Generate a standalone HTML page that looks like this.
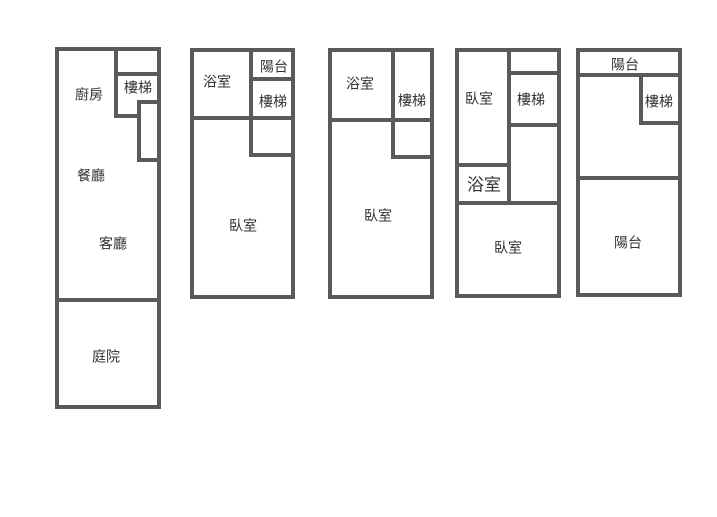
<!DOCTYPE html>
<html><head><meta charset="utf-8"><style>
html,body{margin:0;padding:0;background:#fff;width:717px;height:517px;overflow:hidden}
svg{display:block}
text{font-family:"Liberation Sans","Noto Sans CJK TC",sans-serif;font-size:14px;fill:#333;text-anchor:middle;dominant-baseline:middle}
</style></head><body>
<svg width="717" height="517" viewBox="0 0 717 517" xmlns="http://www.w3.org/2000/svg">
<g stroke="#5a5a5a" stroke-width="4" fill="none" stroke-linecap="square">
<rect x="57" y="49" width="102" height="358"/>
<line x1="57" y1="300" x2="159" y2="300"/>
<line x1="116" y1="49" x2="116" y2="116"/>
<line x1="116" y1="74" x2="159" y2="74"/>
<line x1="116" y1="116" x2="139" y2="116"/>
<line x1="139" y1="102" x2="139" y2="160"/>
<line x1="139" y1="102" x2="159" y2="102"/>
<line x1="139" y1="160" x2="159" y2="160"/>
<rect x="192" y="50" width="101" height="247"/>
<line x1="192" y1="118" x2="293" y2="118"/>
<line x1="251" y1="50" x2="251" y2="155"/>
<line x1="251" y1="79" x2="293" y2="79"/>
<line x1="251" y1="155" x2="293" y2="155"/>
<rect x="330" y="50" width="102" height="247"/>
<line x1="330" y1="120" x2="432" y2="120"/>
<line x1="393" y1="50" x2="393" y2="157"/>
<line x1="393" y1="157" x2="432" y2="157"/>
<rect x="457" y="50" width="102" height="246"/>
<line x1="509" y1="50" x2="509" y2="203"/>
<line x1="509" y1="73" x2="559" y2="73"/>
<line x1="509" y1="125" x2="559" y2="125"/>
<line x1="457" y1="165" x2="509" y2="165"/>
<line x1="457" y1="203" x2="557" y2="203"/>
<rect x="578" y="50" width="102" height="245"/>
<line x1="578" y1="75" x2="680" y2="75"/>
<line x1="641" y1="75" x2="641" y2="123"/>
<line x1="641" y1="123" x2="680" y2="123"/>
<line x1="578" y1="178" x2="680" y2="178"/>
</g>
<g transform="translate(0,2)">
<text x="89" y="94">廚房</text>
<text x="138" y="87">樓梯</text>
<text x="91" y="175">餐廳</text>
<text x="113" y="243">客廳</text>
<text x="106" y="356">庭院</text>
<text x="217" y="81">浴室</text>
<text x="274" y="66">陽台</text>
<text x="273" y="101">樓梯</text>
<text x="243" y="225">臥室</text>
<text x="360" y="83">浴室</text>
<text x="412" y="100">樓梯</text>
<text x="378" y="215">臥室</text>
<text x="479" y="98">臥室</text>
<text x="531" y="99">樓梯</text>
<text x="484" y="184" style="font-size:17px">浴室</text>
<text x="508" y="247">臥室</text>
<text x="625" y="64">陽台</text>
<text x="659" y="101">樓梯</text>
<text x="628" y="242">陽台</text>
</g>
</svg>
</body></html>
